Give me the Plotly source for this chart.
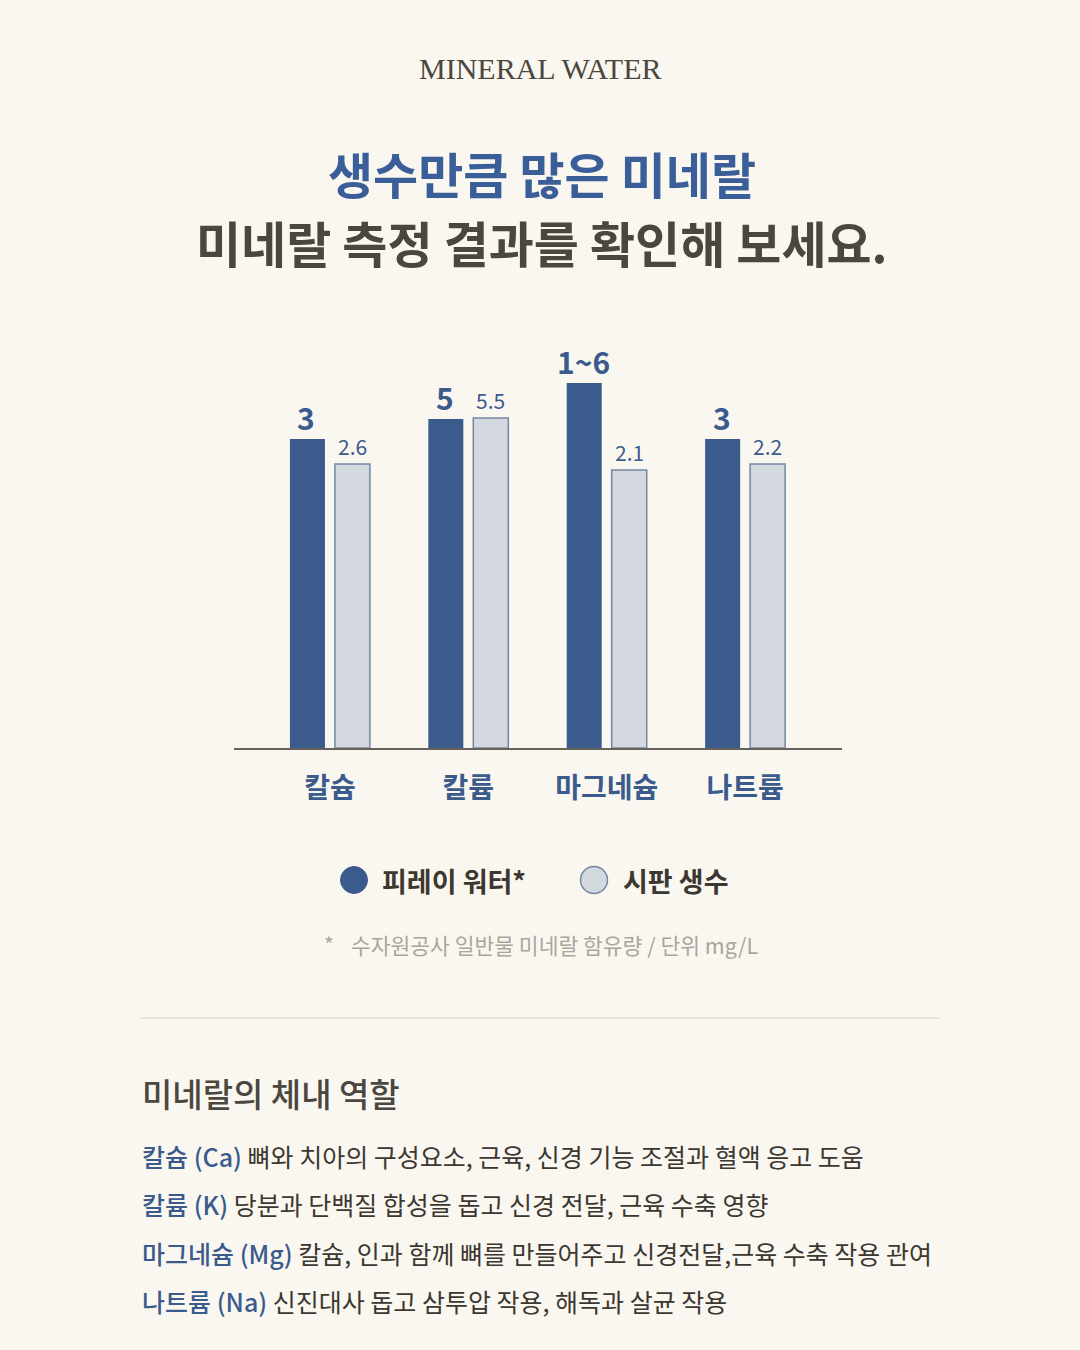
import plotly.graph_objects as go

W, H = 1080, 1350

# ---------------- data ----------------
categories = ["칼슘", "칼륨", "마그네슘", "나트륨"]
series_names = ["피레이 워터*", "시판 생수"]
# labels printed above the bars (mg/L)
labels_pirei = ["3", "5", "1~6", "3"]
labels_market = ["2.6", "5.5", "2.1", "2.2"]
# bar heights as drawn in the picture (chart units, illustrative scale)
bar_height_pirei = [30.9, 32.9, 36.5, 30.9]
bar_height_market = [28.4, 33.0, 27.8, 28.4]

roles_prefix = ["칼슘 (Ca)", "칼륨 (K)", "마그네슘 (Mg)", "나트륨 (Na)"]
roles_text = [
    "뼈와 치아의 구성요소, 근육, 신경 기능 조절과 혈액 응고 도움",
    "당분과 단백질 합성을 돕고 신경 전달, 근육 수축 영향",
    "칼슘, 인과 함께 뼈를 만들어주고 신경전달,근육 수축 작용 관여",
    "신진대사 돕고 삼투압 작용, 해독과 살균 작용",
]

# ---------------- styles ----------------
BG = "#faf7f0"
BLUE = "#3b5b8c"
GREY = "#d4d8df"
GREY_LINE = "#7486a6"
DARK = "#4b473e"
KR = "Noto Sans CJK KR"


def px(x):
    return x / W


def py(y):
    return 1 - y / H


fig = go.Figure()

BW = 0.253
fig.add_trace(go.Bar(
    x=categories, y=bar_height_pirei, name=series_names[0],
    width=BW, offset=-0.289,
    marker=dict(color=BLUE, line=dict(width=0)),
    showlegend=False, hoverinfo="skip",
))
fig.add_trace(go.Bar(
    x=categories, y=bar_height_market, name=series_names[1],
    width=BW, offset=0.036,
    marker=dict(color=GREY, line=dict(color=GREY_LINE, width=1.5)),
    showlegend=False, hoverinfo="skip",
))

annotations = []
PXU = 138.5  # pixels per category unit
for cat, h, lab in zip(categories, bar_height_pirei, labels_pirei):
    annotations.append(dict(
        x=cat, y=h, xref="x", yref="y", text=lab, showarrow=False,
        xshift=-0.1625 * PXU - 1, yshift=22, yanchor="middle",
        font=dict(family=KR, size=30, color=BLUE, weight="bold"),
    ))
for cat, h, lab in zip(categories, bar_height_market, labels_market):
    annotations.append(dict(
        x=cat, y=h, xref="x", yref="y", text=lab, showarrow=False,
        xshift=0.1625 * PXU, yshift=18, yanchor="middle",
        font=dict(family=KR, size=21, color=BLUE),
    ))

# titles
annotations.append(dict(x=px(540), y=py(68), xref="paper", yref="paper",
                        text="MINERAL WATER", showarrow=False, yanchor="middle",
                        font=dict(family="Liberation Serif", size=30, color=DARK)))
annotations.append(dict(x=px(542), y=py(173), xref="paper", yref="paper",
                        text="생수만큼 많은 미네랄", showarrow=False, yanchor="middle",
                        font=dict(family=KR, size=49, color="#3a5e98", weight="bold")))
annotations.append(dict(x=px(542), y=py(241), xref="paper", yref="paper",
                        text="미네랄 측정 결과를 확인해 보세요.", showarrow=False, yanchor="middle",
                        font=dict(family=KR, size=49, color=DARK, weight="bold")))

# legend
annotations.append(dict(x=px(380), y=py(880), xref="paper", yref="paper", xanchor="left",
                        text=series_names[0], showarrow=False, yanchor="middle",
                        font=dict(family=KR, size=27, color="#3c3830", weight="bold")))
annotations.append(dict(x=px(621), y=py(880), xref="paper", yref="paper", xanchor="left",
                        text=series_names[1], showarrow=False, yanchor="middle",
                        font=dict(family=KR, size=27, color="#3c3830", weight="bold")))

# footnote
annotations.append(dict(x=px(322), y=py(944), xref="paper", yref="paper", xanchor="left",
                        text="*", showarrow=False, yanchor="middle",
                        font=dict(family=KR, size=21, color="#aaa59c")))
annotations.append(dict(x=px(349), y=py(945), xref="paper", yref="paper", xanchor="left",
                        text="수자원공사 일반물 미네랄 함유량 / 단위 mg/L", showarrow=False,
                        yanchor="middle",
                        font=dict(family=KR, size=21.5, color="#aaa59c")))

# role section
annotations.append(dict(x=px(140), y=py(1093), xref="paper", yref="paper", xanchor="left",
                        text="미네랄의 체내 역할", showarrow=False, yanchor="middle",
                        font=dict(family=KR, size=33, color=DARK, weight=500)))
row_y = [1156, 1204, 1253, 1301]
for yy, pre, txt in zip(row_y, roles_prefix, roles_text):
    annotations.append(dict(
        x=px(140), y=py(yy), xref="paper", yref="paper", xanchor="left", yanchor="middle",
        text=f'<span style="color:{BLUE};font-weight:500">{pre}</span> {txt}', showarrow=False,
        font=dict(family=KR, size=25, color="#3c3830"),
    ))

shapes = [
    dict(type="circle", xref="paper", yref="paper",
         x0=px(340.5), x1=px(367.5), y0=py(893.5), y1=py(866.5),
         fillcolor=BLUE, line=dict(color=BLUE, width=1)),
    dict(type="circle", xref="paper", yref="paper",
         x0=px(580.5), x1=px(607.5), y0=py(893.5), y1=py(866.5),
         fillcolor=GREY, line=dict(color=GREY_LINE, width=1.5)),
    dict(type="line", xref="paper", yref="paper",
         x0=px(140), x1=px(940), y0=py(1018), y1=py(1018),
         line=dict(color="#d9d5cc", width=1.2)),
]

fig.update_layout(
    width=W, height=H,
    margin=dict(l=0, r=0, t=0, b=0),
    paper_bgcolor=BG, plot_bgcolor=BG,
    barmode="overlay",
    showlegend=False,
    annotations=annotations,
    shapes=shapes,
    xaxis=dict(
        domain=[px(234), px(842)], type="category",
        range=[-0.693, 3.70],
        showline=True, linecolor="#66625a", linewidth=1.5,
        showgrid=False, zeroline=False, ticks="", ticklabelstandoff=15,
        tickfont=dict(family=KR, size=28, color=BLUE, weight="bold"),
        fixedrange=True,
    ),
    yaxis=dict(
        domain=[py(748), py(348)], range=[0, 40],
        visible=False, showgrid=False, zeroline=False, fixedrange=True,
    ),
)

fig.write_html("out.html")
